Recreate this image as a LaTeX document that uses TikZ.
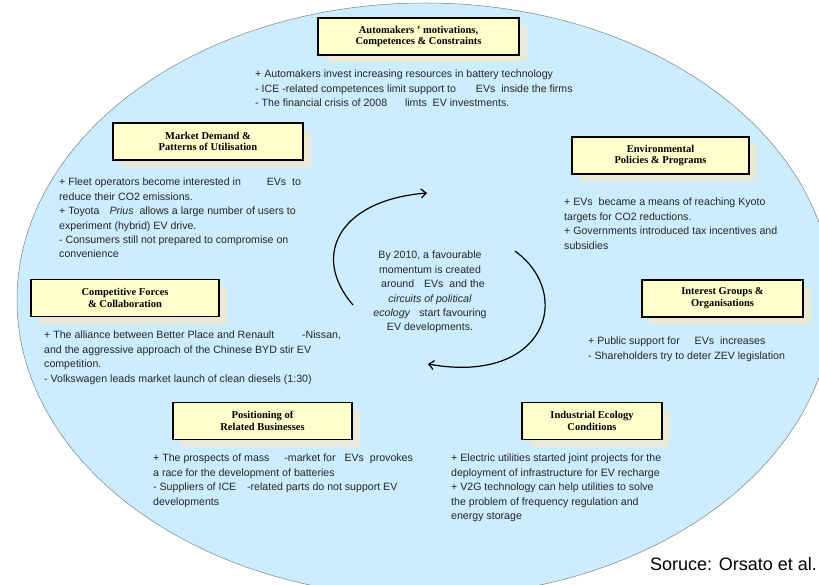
\documentclass[tikz,border=0pt]{standalone}
\usepackage{fontspec}
\setmainfont{Liberation Sans}
\newfontfamily\boxfont{Liberation Serif}
\usetikzlibrary{arrows.meta,shadows}
\usepackage{xcolor}
\definecolor{ovalblue}{RGB}{204,236,255}
\definecolor{boxyellow}{RGB}{255,255,204}
\definecolor{boxshade}{RGB}{236,233,216}
\definecolor{txtgray}{RGB}{38,38,38}

\begin{document}
\begin{tikzpicture}[x=1pt,y=1pt,>={Straight Barb[length=5pt,width=9pt]},
	factor/.style={draw=black,line width=1.1pt,fill=boxyellow,minimum height=37pt,
		inner sep=0pt,align=center,font=\boxfont\bfseries\fontsize{10.5}{11.8}\selectfont,
		drop shadow={shadow xshift=8pt,shadow yshift=-7pt,fill=boxshade,opacity=1}},
	facts/.style={anchor=north west,inner sep=0pt,align=left,text=txtgray,
		font=\fontsize{10.6}{14.4}\selectfont},
	cycle/.style={line width=1.2pt}]
	\useasboundingbox (0,0) rectangle (819,-585);
	\clip (0,0) rectangle (819,-585);
	\draw[draw=gray,fill=ovalblue,line width=0.5pt] (425,-300) ellipse[x radius=408,y radius=297];

	\node[factor,minimum width=201pt] (auto) at (418.5,-36.5) {Automakers ’ motivations,\\Competences \& Constraints};
	\node[factor,minimum width=190pt] (market) at (208,-141.5) {Market Demand \&\\Patterns of Utilisation};
	\node[factor,minimum width=177pt] (envir) at (660.5,-155.5) {Environmental\\Policies \& Programs};
	\node[factor,minimum width=188pt] (compet) at (125,-298) {Competitive Forces\\\& Collaboration};
	\node[factor,minimum width=161pt] (interest) at (722.5,-298.5) {Interest Groups \&\\Organisations};
	\node[factor,minimum width=179pt] (position) at (262.5,-421) {Positioning of\\Related Businesses};
	\node[factor,minimum width=140pt] (indust) at (592,-421) {Industrial Ecology\\Conditions};

	\node[facts] (autotxt) at (255,-70) {+ Automakers invest increasing resources in battery technology\\
		- ICE -related competences limit support to \hspace{14pt} EVs\ \ inside the firms\\
		- The financial crisis of 2008 \hspace{12pt} limts\ \ EV investments.};
	\node[facts] (markettxt) at (59,-178) {+ Fleet operators become interested in \hspace{20pt} EVs\ \ to\\
		reduce their CO2 emissions.\\
		+ Toyota \hspace{7pt}\textit{Prius}\ \ allows a large number of users to\\
		experiment (hybrid) EV drive.\\
		- Consumers still not prepared to compromise on\\
		convenience};
	\node[facts] (envirtxt) at (564,-198) {+ EVs\ \ became a means of reaching Kyoto\\
		targets for CO2 reductions.\\
		+ Governments introduced tax incentives and\\
		subsidies};
	\node[facts] (compettxt) at (44,-331) {+ The alliance between Better Place and Renault \hspace{22pt} -Nissan,\\
		and the aggressive approach of the Chinese BYD stir EV\\
		competition.\\
		- Volkswagen leads market launch of clean diesels (1:30)};
	\node[facts] (interesttxt) at (588,-337) {+ Public support for \hspace{9pt} EVs\ \ increases\\
		- Shareholders try to deter ZEV legislation};
	\node[facts] (positiontxt) at (153,-454) {+ The prospects of mass \hspace{9pt} -market for \hspace{3pt} EVs\ \ provokes\\
		a race for the development of batteries\\
		- Suppliers of ICE \hspace{5pt} -related parts do not support EV\\
		developments};
	\node[facts] (industtxt) at (451,-454) {+ Electric utilities started joint projects for the\\
		deployment of infrastructure for EV recharge\\
		+ V2G technology can help utilities to solve\\
		the problem of frequency regulation and\\
		energy storage};
	\node[facts,anchor=north,align=center] (momentum) at (430,-251) {By 2010,\ a favourable\\
		momentum\ is created\\
		\hspace{6pt}around \hspace{4pt} EVs\ \ and the\\
		\textit{circuits of political}\\
		\textit{ecology} \hspace{3pt} start favouring\\
		EV developments.};

	\coordinate (lstart) at (353,-305);
	\coordinate (ltip) at (427,-193);
	\draw[cycle,->] (lstart) .. controls (310,-255) and (340,-200) .. (ltip);
	\coordinate (rstart) at (515,-251);
	\coordinate (rtip) at (428,-364);
	\draw[cycle,->] (rstart) .. controls (575,-295) and (545,-385) .. (rtip);

	\node[anchor=base west,inner sep=0pt,font=\fontsize{18}{20}\selectfont] (source) at (650,-570) {Soruce: Orsato et al.};
\end{tikzpicture}
\end{document}
